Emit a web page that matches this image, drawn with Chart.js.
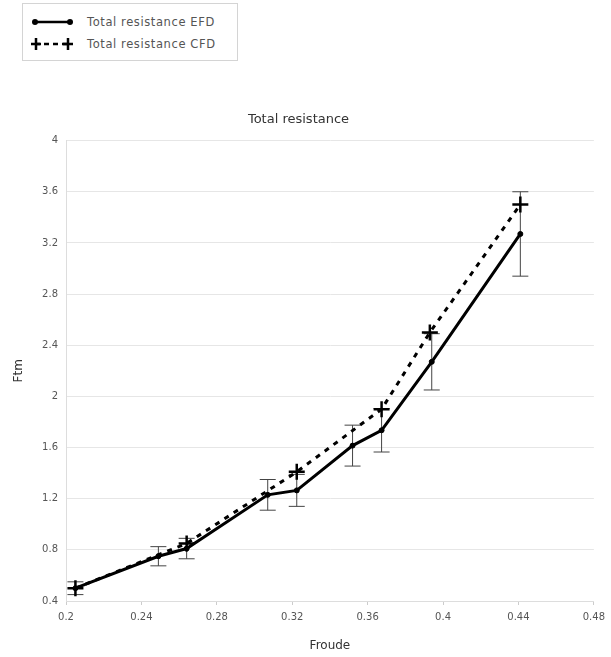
<!DOCTYPE html>
<html>
<head>
<meta charset="utf-8">
<script src="https://cdn.jsdelivr.net/npm/chart.js@4.4.1/dist/chart.umd.min.js"></script>
<style>
  html, body { margin: 0; padding: 0; background: #fff; }
  #wrap { position: relative; width: 611px; height: 657px; }
  #legend {
    position: absolute; left: 22px; top: 3px; width: 214px; height: 56px;
    border: 1px solid #d4d4d4; background: #fff;
    font-family: "DejaVu Sans", sans-serif; font-size: 11.5px; letter-spacing: 0.6px; color: #555;
  }
  .row { position: absolute; left: 8px; height: 14px; display: flex; align-items: center; }
  .row svg { margin-right: 13px; }
</style>
</head>
<body>
<div id="wrap">
  <canvas id="chart" width="611" height="657"></canvas>
  <div id="legend">
    <div class="row" style="top:11px">
      <svg width="43" height="14"><line x1="4" y1="7" x2="39" y2="7" stroke="#000" stroke-width="2.5"/><circle cx="4" cy="7" r="3" fill="#000"/><circle cx="39" cy="7" r="3" fill="#000"/></svg>
      <span>Total resistance EFD</span>
    </div>
    <div class="row" style="top:33px">
      <svg width="43" height="14"><line x1="4" y1="7" x2="39" y2="7" stroke="#000" stroke-width="2.5" stroke-dasharray="5 4"/><path d="M5 1 V13 M0 7 H10 M37 1 V13 M32 7 H42" stroke="#000" stroke-width="2.5"/></svg>
      <span>Total resistance CFD</span>
    </div>
  </div>
</div>
<script>
// ----------------------
// Data
// ----------------------
const froudeEFD = [0.205, 0.249, 0.264, 0.307, 0.3224, 0.352, 0.3674, 0.394, 0.441];
const resistanceEFD = [0.50, 0.75, 0.81, 1.23, 1.265, 1.615, 1.735, 2.27, 3.27];
const errorEFD = [0.05, 0.075, 0.08, 0.12, 0.125, 0.16, 0.17, 0.22, 0.33];

const froudeCFD = [0.205, 0.264, 0.3224, 0.3674, 0.393, 0.441];
const resistanceCFD = [0.50, 0.85, 1.41, 1.90, 2.50, 3.50];

const xTicks = [0.2, 0.24, 0.28, 0.32, 0.36, 0.4, 0.44, 0.48];
const yTicks = [0.4, 0.8, 1.2, 1.6, 2, 2.4, 2.8, 3.2, 3.6, 4];

const FONT = "'DejaVu Sans', sans-serif";

// error bars for the EFD series, drawn through the scales
const errorBars = {
  id: "errorBars",
  beforeDatasetsDraw(chart) {
    const { ctx, scales: { x, y } } = chart;
    ctx.save();
    ctx.strokeStyle = "#444";
    ctx.lineWidth = 1;
    froudeEFD.forEach((f, i) => {
      const px = x.getPixelForValue(f);
      const top = y.getPixelForValue(resistanceEFD[i] + errorEFD[i]);
      const bot = y.getPixelForValue(resistanceEFD[i] - errorEFD[i]);
      ctx.beginPath();
      ctx.moveTo(px, top); ctx.lineTo(px, bot);
      ctx.moveTo(px - 8, top); ctx.lineTo(px + 8, top);
      ctx.moveTo(px - 8, bot); ctx.lineTo(px + 8, bot);
      ctx.stroke();
    });
    ctx.restore();
  }
};

const fmt = v => String(Number(v.toFixed(2)));

new Chart(document.getElementById("chart"), {
  type: "scatter",
  data: {
    datasets: [
      {
        label: "Total resistance EFD",
        data: froudeEFD.map((f, i) => ({ x: f, y: resistanceEFD[i] })),
        showLine: true,
        borderColor: "#000",
        backgroundColor: "#000",
        borderWidth: 3,
        pointRadius: 2.5,
        pointBorderWidth: 1,
        pointStyle: "circle"
      },
      {
        label: "Total resistance CFD",
        data: froudeCFD.map((f, i) => ({ x: f, y: resistanceCFD[i] })),
        showLine: true,
        borderColor: "#000",
        backgroundColor: "#000",
        borderWidth: 3,
        borderDash: [5, 6],
        pointRadius: 8,
        pointBorderWidth: 2.5,
        pointStyle: "cross"
      }
    ]
  },
  options: {
    responsive: false,
    animation: false,
    layout: { padding: { top: 0, right: 14, left: 0, bottom: 0 } },
    plugins: {
      legend: { display: false },
      tooltip: { enabled: false },
      title: {
        display: true,
        text: "Total resistance",
        color: "#333",
        font: { family: FONT, size: 13, weight: "normal" },
        padding: { top: 112, bottom: 13 }
      }
    },
    scales: {
      x: {
        type: "linear",
        min: 0.2, max: 0.48,
        afterBuildTicks: s => { s.ticks = xTicks.map(v => ({ value: v })); },
        afterFit: s => { s.height = 56; },
        ticks: { color: "#555", font: { family: FONT, size: 10 }, padding: 6, callback: fmt },
        grid: { drawOnChartArea: false, drawTicks: true, tickLength: 4, color: "#ccc" },
        border: { color: "#ddd" },
        title: { display: true, text: "Froude", color: "#333", font: { family: FONT, size: 12 }, padding: { top: 0 } }
      },
      y: {
        type: "linear",
        min: 0.4, max: 4,
        afterBuildTicks: s => { s.ticks = yTicks.map(v => ({ value: v })); },
        afterFit: s => { s.width = 66; },
        ticks: { color: "#555", font: { family: FONT, size: 10 }, padding: 8, callback: fmt },
        grid: { color: "#e6e6e6", drawTicks: false },
        border: { color: "#ddd" },
        title: { display: true, text: "Ftm", color: "#333", font: { family: FONT, size: 12 }, padding: { top: 12, bottom: 0 } }
      }
    }
  },
  plugins: [errorBars]
});
</script>
</body>
</html>
